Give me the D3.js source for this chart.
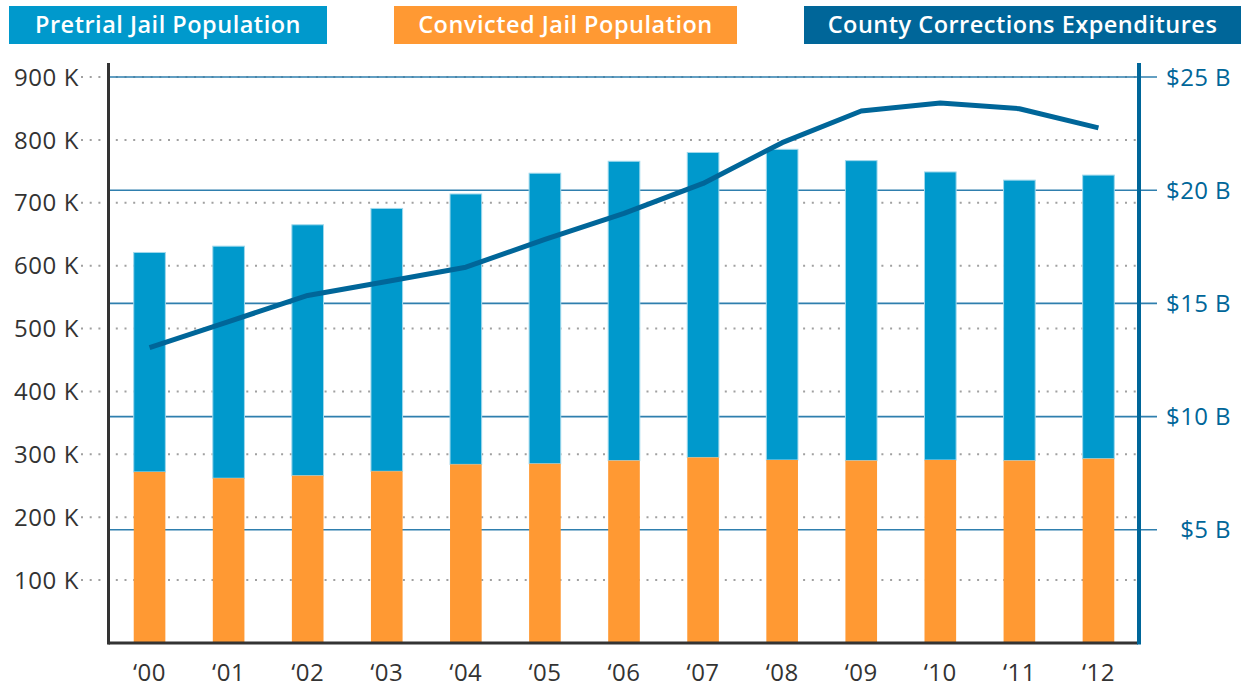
<!DOCTYPE html>
<meta charset="utf-8">
<style>
body {
  margin: 0;
  background: #fff;
  font-family: "Open Sans", Arial, sans-serif;
}
.legend text {
  fill: #fff;
  font-size: 23.5px;
  font-weight: 600;
  letter-spacing: 0.5px;
}
.yLeft text {
  fill: #333;
  font-size: 24px;
  letter-spacing: 0.6px;
}
.yRight text {
  fill: #006699;
  font-size: 24px;
  letter-spacing: 0.4px;
}
.xAxis text {
  fill: #333;
  font-size: 24px;
  letter-spacing: 0.5px;
}
.dotline {
  stroke: #a0a0a0;
  stroke-width: 2px;
  stroke-dasharray: 2,6.7;
}
.solidline {
  stroke: #2f7fae;
  stroke-width: 1.6px;
}
.line {
  fill: none;
  stroke: #006699;
  stroke-width: 5px;
  stroke-linejoin: round;
}
</style>
<body>
<script src="https://d3js.org/d3.v7.min.js"></script>
<script>
// data
var years = ["'00","'01","'02","'03","'04","'05","'06","'07","'08","'09","'10","'11","'12"];
var convicted = [272, 262, 266, 273, 284, 285, 290, 295, 291, 290, 291, 290, 293];   // thousands
var pretrial  = [349, 369, 399, 418, 430, 462, 476, 485, 494, 477, 458, 446, 451];   // thousands
var spending  = [13.05, 14.2, 15.35, 15.97, 16.6, 17.83, 18.98, 20.3, 22.1, 23.5, 23.85, 23.6, 22.75]; // billions $
var leftTicks = [100, 200, 300, 400, 500, 600, 700, 800, 900];
var rightTicks = [5, 10, 15, 20, 25];
var legendItems = ["Pretrial Jail Population", "Convicted Jail Population", "County Corrections Expenditures"];
var legendColors = ["#0099cc", "#ff9933", "#006699"];

var W = 1241, H = 687;
var margin = {top: 77, right: 103, bottom: 44, left: 110},
    width = W - margin.left - margin.right,
    height = H - margin.top - margin.bottom;

var svg = d3.select("body").append("svg")
    .attr("width", W)
    .attr("height", H);

// legend boxes across the top
var legendPos = [[9, 318], [394, 343], [804, 437]];
var legend = svg.append("g").attr("class", "legend");
legendItems.forEach(function(t, i) {
  legend.append("rect")
    .attr("x", legendPos[i][0]).attr("y", 6)
    .attr("width", legendPos[i][1]).attr("height", 38)
    .attr("fill", legendColors[i]);
  legend.append("text")
    .attr("x", legendPos[i][0] + legendPos[i][1] / 2).attr("y", 33)
    .attr("text-anchor", "middle")
    .text(t);
});

var g = svg.append("g")
    .attr("transform", "translate(" + margin.left + "," + margin.top + ")");

var x = d3.scaleBand().domain(years).range([0, width]).paddingInner(0.6).paddingOuter(0.3);
var y = d3.scaleLinear().domain([0, 900]).range([height, 0]);
var y2 = d3.scaleLinear().domain([0, 25]).range([height, 0]);

// dotted gridlines for the population axis
g.append("g").selectAll("line")
  .data(leftTicks).enter().append("line")
    .attr("class", "dotline")
    .attr("x1", -29).attr("x2", width)
    .attr("y1", function(d) { return y(d); })
    .attr("y2", function(d) { return y(d); });

// solid gridlines for the dollars axis
g.append("g").selectAll("line")
  .data(rightTicks).enter().append("line")
    .attr("class", "solidline")
    .attr("x1", 0).attr("x2", width + 19)
    .attr("y1", function(d) { return y2(d); })
    .attr("y2", function(d) { return y2(d); });

// stacked bars
var bars = g.append("g");
bars.selectAll("rect.pre")
  .data(years).enter().append("rect")
    .attr("class", "pre")
    .attr("x", function(d) { return x(d); })
    .attr("width", x.bandwidth())
    .attr("y", function(d, i) { return y(convicted[i] + pretrial[i]); })
    .attr("height", function(d, i) { return y(convicted[i]) - y(convicted[i] + pretrial[i]); })
    .attr("fill", "#0099cc")
    .attr("stroke", "#9fd8ec")
    .attr("stroke-width", 1);
bars.selectAll("rect.conv")
  .data(years).enter().append("rect")
    .attr("class", "conv")
    .attr("x", function(d) { return x(d); })
    .attr("width", x.bandwidth())
    .attr("y", function(d, i) { return y(convicted[i]); })
    .attr("height", function(d, i) { return height - y(convicted[i]); })
    .attr("fill", "#ff9933");

// expenditures line
var valueline = d3.line()
    .x(function(d, i) { return x(years[i]) + x.bandwidth() / 2; })
    .y(function(d) { return y2(d); });
g.append("path")
    .datum(spending)
    .attr("class", "line")
    .attr("d", valueline);

// left axis labels
var yl = g.append("g").attr("class", "yLeft");
yl.selectAll("text")
  .data(leftTicks).enter().append("text")
    .attr("x", -31)
    .attr("y", function(d) { return y(d); })
    .attr("dy", "0.36em")
    .attr("text-anchor", "end")
    .text(function(d) { return d + " K"; });

// right axis labels
var yr = g.append("g").attr("class", "yRight");
yr.selectAll("text")
  .data(rightTicks).enter().append("text")
    .attr("x", width + 93)
    .attr("y", function(d) { return y2(d); })
    .attr("dy", "0.36em")
    .attr("text-anchor", "end")
    .text(function(d) { return "$" + d + " B"; });

// x labels
var xa = g.append("g").attr("class", "xAxis");
xa.selectAll("text")
  .data(years).enter().append("text")
    .attr("x", function(d) { return x(d) + x.bandwidth() / 2; })
    .attr("y", height + 38)
    .attr("text-anchor", "middle")
    .text(function(d) { return "\u2018" + d.slice(1); });

// axis frame lines
g.append("line")
    .attr("x1", -1.5).attr("x2", width).attr("y1", height).attr("y2", height)
    .attr("stroke", "#333").attr("stroke-width", 3);
g.append("line")
    .attr("x1", -1.5).attr("x2", -1.5).attr("y1", -14).attr("y2", height + 1.5)
    .attr("stroke", "#333").attr("stroke-width", 3);
g.append("line")
    .attr("x1", width + 1).attr("x2", width + 1).attr("y1", -14).attr("y2", height + 1.5)
    .attr("stroke", "#006699").attr("stroke-width", 4);
</script>
</body>
